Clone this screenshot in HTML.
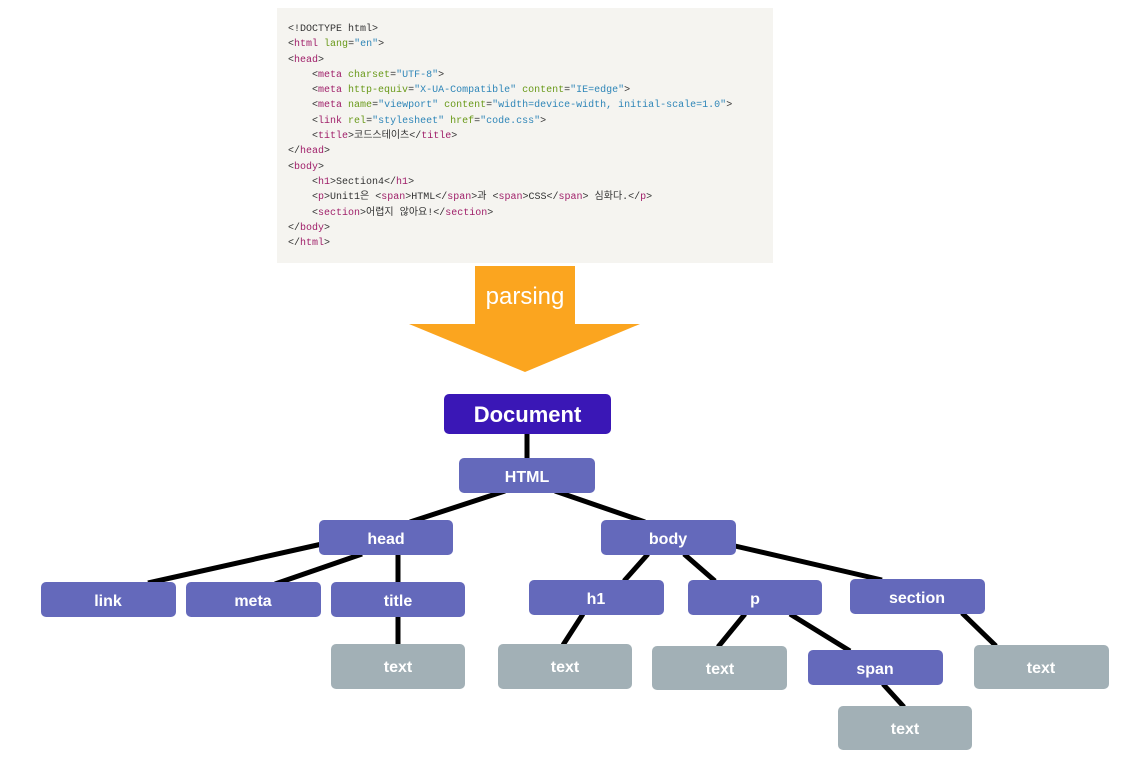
<!DOCTYPE html>
<html><head><meta charset="utf-8"><style>
body{margin:0;width:1139px;height:765px;background:#fff;overflow:hidden;position:relative}
.code{position:absolute;left:277px;top:8px;width:496px;height:255px;background:#f5f4f0;font-family:"Liberation Mono","Noto Sans CJK KR",monospace;font-size:10px;line-height:15.3px;color:#333;padding:14px 0 0 11px;box-sizing:border-box;white-space:pre}
.t{color:#a0206a}.a{color:#6a9a1a}.v{color:#2f86b8}
</style></head><body>
<div class="code">&lt;!DOCTYPE html&gt;
&lt;<span class="t">html</span> <span class="a">lang</span>=<span class="v">"en"</span>&gt;
&lt;<span class="t">head</span>&gt;
    &lt;<span class="t">meta</span> <span class="a">charset</span>=<span class="v">"UTF-8"</span>&gt;
    &lt;<span class="t">meta</span> <span class="a">http-equiv</span>=<span class="v">"X-UA-Compatible"</span> <span class="a">content</span>=<span class="v">"IE=edge"</span>&gt;
    &lt;<span class="t">meta</span> <span class="a">name</span>=<span class="v">"viewport"</span> <span class="a">content</span>=<span class="v">"width=device-width, initial-scale=1.0"</span>&gt;
    &lt;<span class="t">link</span> <span class="a">rel</span>=<span class="v">"stylesheet"</span> <span class="a">href</span>=<span class="v">"code.css"</span>&gt;
    &lt;<span class="t">title</span>&gt;코드스테이츠&lt;/<span class="t">title</span>&gt;
&lt;/<span class="t">head</span>&gt;
&lt;<span class="t">body</span>&gt;
    &lt;<span class="t">h1</span>&gt;Section4&lt;/<span class="t">h1</span>&gt;
    &lt;<span class="t">p</span>&gt;Unit1은 &lt;<span class="t">span</span>&gt;HTML&lt;/<span class="t">span</span>&gt;과 &lt;<span class="t">span</span>&gt;CSS&lt;/<span class="t">span</span>&gt; 심화다.&lt;/<span class="t">p</span>&gt;
    &lt;<span class="t">section</span>&gt;어렵지 않아요!&lt;/<span class="t">section</span>&gt;
&lt;/<span class="t">body</span>&gt;
&lt;/<span class="t">html</span>&gt;</div>
<svg width="1139" height="765" style="position:absolute;left:0;top:0" font-family="Liberation Sans, sans-serif">
<rect x="475" y="266" width="100" height="59" fill="#fba51f"/>
<polygon points="409,324 640,324 525,372" fill="#fba51f"/>
<text x="525" y="304" fill="#fff" font-size="24" text-anchor="middle">parsing</text>
<g stroke="#000" stroke-width="5" stroke-linecap="butt">
<line x1="527" y1="434" x2="527" y2="458"/>
<line x1="505" y1="491" x2="410" y2="522"/>
<line x1="555" y1="491" x2="645" y2="522"/>
<line x1="322" y1="544" x2="148" y2="583"/>
<line x1="362" y1="554" x2="275" y2="584"/>
<line x1="398" y1="555" x2="398" y2="582"/>
<line x1="398" y1="617" x2="398" y2="644"/>
<line x1="648" y1="554" x2="624" y2="581"/>
<line x1="684" y1="554" x2="715" y2="581"/>
<line x1="735" y1="546" x2="882" y2="580"/>
<line x1="583" y1="614" x2="563" y2="645"/>
<line x1="745" y1="614" x2="718" y2="647"/>
<line x1="790" y1="614" x2="850" y2="651"/>
<line x1="962" y1="613" x2="996" y2="646"/>
<line x1="883" y1="684" x2="904" y2="707"/>
</g>
<g font-size="16" font-weight="bold" fill="#fff" text-anchor="middle">
<rect x="444" y="394" width="167" height="40" rx="5" fill="#3a17b6"/><text x="527.5" y="422" font-size="22">Document</text>
<g fill="#6469bb">
<rect x="459" y="458" width="136" height="35" rx="5"/>
<rect x="319" y="520" width="134" height="35" rx="5"/>
<rect x="601" y="520" width="135" height="35" rx="5"/>
<rect x="41" y="582" width="135" height="35" rx="5"/>
<rect x="186" y="582" width="135" height="35" rx="5"/>
<rect x="331" y="582" width="134" height="35" rx="5"/>
<rect x="529" y="580" width="135" height="35" rx="5"/>
<rect x="688" y="580" width="134" height="35" rx="5"/>
<rect x="850" y="579" width="135" height="35" rx="5"/>
<rect x="808" y="650" width="135" height="35" rx="5"/>
</g>
<g fill="#a2b0b6">
<rect x="331" y="644" width="134" height="45" rx="5"/>
<rect x="498" y="644" width="134" height="45" rx="5"/>
<rect x="652" y="646" width="135" height="44" rx="5"/>
<rect x="974" y="645" width="135" height="44" rx="5"/>
<rect x="838" y="706" width="134" height="44" rx="5"/>
</g>
<text x="527" y="482">HTML</text>
<text x="386" y="544">head</text>
<text x="668" y="544">body</text>
<text x="108" y="606">link</text>
<text x="253" y="606">meta</text>
<text x="398" y="606">title</text>
<text x="596" y="604">h1</text>
<text x="755" y="604">p</text>
<text x="917" y="603">section</text>
<text x="875" y="674">span</text>
<text x="398" y="672">text</text>
<text x="565" y="672">text</text>
<text x="720" y="674">text</text>
<text x="1041" y="673">text</text>
<text x="905" y="734">text</text>
</g>
</svg>
</body></html>
